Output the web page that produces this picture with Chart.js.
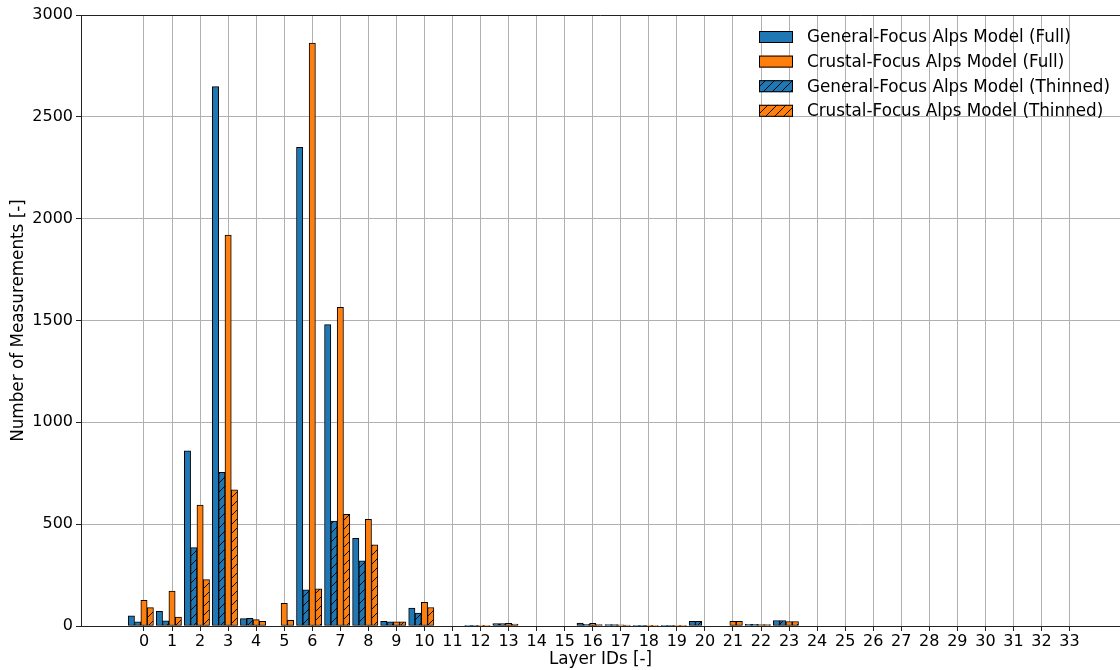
<!DOCTYPE html>
<html>
<head>
<meta charset="utf-8">
<script src="https://cdn.jsdelivr.net/npm/chart.js@4"></script>
<style>
  html, body { margin: 0; padding: 0; background: #fff; }
  canvas { display: block; }
</style>
</head>
<body>
<canvas id="layerChart" width="1120" height="670"></canvas>
<script>
// layer ids 0..33
var layerIds = [];
for (var i = 0; i <= 33; i++) layerIds.push(i);

var generalFull    = [50, 72, 860, 2648, 36, 0, 2350, 1480, 430, 23, 88, 0, 2, 12, 0, 0, 14, 7, 2, 2, 23, 0, 8, 27, 0, 0, 0, 0, 0, 0, 0, 0, 0, 0];
var generalThinned = [20, 25, 385, 755, 38, 0, 177, 515, 320, 20, 64, 0, 1, 12, 0, 0, 8, 7, 2, 1, 23, 0, 8, 27, 0, 0, 0, 0, 0, 0, 0, 0, 0, 0];
var crustalFull    = [126, 172, 594, 1920, 31, 111, 2862, 1565, 524, 20, 116, 0, 3, 13, 0, 0, 13, 6, 3, 1, 0, 23, 7, 22, 0, 0, 0, 0, 0, 0, 0, 0, 0, 0];
var crustalThinned = [90, 44, 228, 668, 23, 28, 182, 548, 398, 20, 91, 0, 2, 10, 0, 0, 7, 5, 3, 1, 0, 23, 7, 22, 0, 0, 0, 0, 0, 0, 0, 0, 0, 0];

var yTicks = [0, 500, 1000, 1500, 2000, 2500, 3000];

var BLUE = '#1f77b4';
var ORANGE = '#ff7f0e';
var FONT = 'DejaVu Sans';

function hatch(color) {
    var c = document.createElement('canvas');
    c.width = 9; c.height = 9;
    var g = c.getContext('2d');
    g.fillStyle = color;
    g.fillRect(0, 0, 9, 9);
    g.strokeStyle = '#000';
    g.lineWidth = 1;
    g.beginPath();
    g.moveTo(0, 9); g.lineTo(9, 0);
    g.moveTo(-1, 1); g.lineTo(1, -1);
    g.moveTo(8, 10); g.lineTo(10, 8);
    g.stroke();
    return g.createPattern(c, 'repeat');
}

// bar offset within a layer group (in layer units)
function series(values, shift) {
    return values.map(function (v, i) { return { x: layerIds[i] + shift, y: v }; });
}

var datasets = [
    { label: 'General-Focus Alps Model (Full)', data: series(generalFull, -0.45), backgroundColor: BLUE },
    { label: 'General-Focus Alps Model (Thinned)', data: series(generalThinned, -0.225), backgroundColor: hatch(BLUE) },
    { label: 'Crustal-Focus Alps Model (Full)', data: series(crustalFull, 0), backgroundColor: ORANGE },
    { label: 'Crustal-Focus Alps Model (Thinned)', data: series(crustalThinned, 0.225), backgroundColor: hatch(ORANGE) }
];
datasets.forEach(function (d) {
    d.borderColor = '#000';
    d.borderWidth = 1;
    d.borderSkipped = false;
    d.grouped = false;
    d.barPercentage = 1;
    d.categoryPercentage = 1;
});

var legendOrder = [0, 2, 1, 3];

var extras = {
    id: 'extras',
    afterDraw: function (chart) {
        var ctx = chart.ctx;
        var a = chart.chartArea;
        ctx.save();
        // top spine
        ctx.strokeStyle = '#222';
        ctx.lineWidth = 1;
        ctx.beginPath();
        ctx.moveTo(a.left, a.top + 0.5);
        ctx.lineTo(a.right, a.top + 0.5);
        ctx.stroke();
        // legend
        ctx.font = '16.8px "' + FONT + '"';
        ctx.textBaseline = 'middle';
        ctx.fillStyle = '#000';
        legendOrder.forEach(function (idx, k) {
            var ds = chart.data.datasets[idx];
            var y = 37 + k * 24.6;
            ctx.fillStyle = ds.backgroundColor;
            ctx.fillRect(759, y - 6, 34, 12);
            ctx.strokeStyle = '#000';
            ctx.strokeRect(759.5, y - 5.5, 33, 11);
            ctx.fillStyle = '#000';
            ctx.fillText(ds.label, 807, y + 1);
        });
        ctx.restore();
    }
};

var ctx = document.getElementById('layerChart').getContext('2d');
var layerChart = new Chart(ctx, {
    type: 'bar',
    data: { datasets: datasets },
    options: {
        responsive: false,
        animation: false,
        layout: { padding: { top: 15, right: 0, bottom: 0, left: 0 } },
        plugins: {
            legend: { display: false },
            tooltip: { enabled: false }
        },
        scales: {
            x: {
                type: 'linear',
                min: -2.246,
                max: 34.8,
                offset: false,
                z: 1,
                afterBuildTicks: function (scale) {
                    scale.ticks = layerIds.map(function (v) { return { value: v }; });
                },
                afterFit: function (scale) { scale.height = 44; },
                grid: { offset: false, color: '#b0b0b0', lineWidth: 1, tickColor: '#222', tickLength: 5 },
                border: { color: '#222', width: 1 },
                ticks: {
                    color: '#000', font: { family: FONT, size: 16 }, padding: 1, maxRotation: 0, autoSkip: false,
                    callback: function (v) { return String(v); }
                },
                title: { display: true, text: 'Layer IDs [-]', color: '#000', font: { family: FONT, size: 16.8 }, padding: { top: 0, bottom: 0 } }
            },
            y: {
                min: 0,
                max: 3000,
                z: 1,
                afterBuildTicks: function (scale) {
                    scale.ticks = yTicks.map(function (v) { return { value: v }; });
                },
                afterFit: function (scale) { scale.width = 81; },
                grid: { color: '#b0b0b0', lineWidth: 1, tickColor: '#222', tickLength: 5 },
                border: { color: '#222', width: 1 },
                ticks: {
                    color: '#000', font: { family: FONT, size: 16 }, padding: 3,
                    callback: function (v) { return String(v); }
                },
                title: { display: true, text: 'Number of Measurements [-]', color: '#000', font: { family: FONT, size: 16.8 }, padding: { top: 9, bottom: 0 } }
            }
        }
    },
    plugins: [extras]
});
</script>
</body>
</html>
